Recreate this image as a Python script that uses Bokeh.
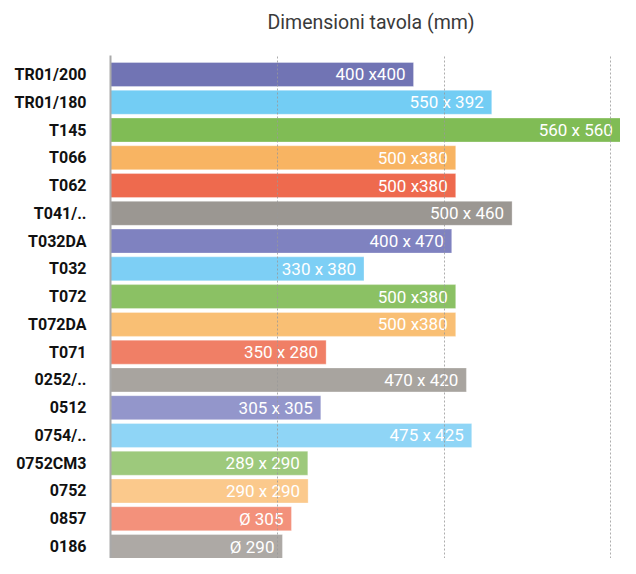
from bokeh.plotting import figure
from bokeh.models import ColumnDataSource, Range1d, FixedTicker, Title
from bokeh.core.properties import value
from bokeh.embed import file_html
from bokeh.resources import INLINE

# ---- data (top to bottom) ----
title_text = "Dimensioni tavola (mm)"
models = ["TR01/200", "TR01/180", "T145", "T066", "T062", "T041/..", "T032DA", "T032",
          "T072", "T072DA", "T071", "0252/..", "0512", "0754/..", "0752CM3", "0752",
          "0857", "0186"]
bar_values = [181.7, 228.6, 306.0, 207.0, 207.0, 240.8, 204.6, 152.0,
              207.0, 207.0, 129.3, 213.4, 126.1, 216.6, 118.3, 118.5,
              108.5, 103.1]
size_labels = ["400 x400", "550 x 392", "560 x 560", "500 x380", "500 x380", "500 x 460",
               "400 x 470", "330 x 380", "500 x380", "500 x380", "350 x 280", "470 x 420",
               "305 x 305", "475 x 425", "289 x 290", "290 x 290", "\u00d8 305", "\u00d8 290"]
bar_colors = ["#7174B4", "#73CDF4", "#80BC55", "#F8B462", "#EE6A4E", "#9B9792",
              "#7F82C0", "#7DCFF5", "#8BC164", "#F9BF74", "#F07F66", "#A8A49F",
              "#9396CB", "#8FD5F6", "#9DC97C", "#FBC98C", "#F3917B", "#ADA9A5"]
grid_ticks = [100, 200, 300]

n = len(models)
pos = [n - 1 - i for i in range(n)]

src = ColumnDataSource(dict(model=models, val=bar_values, label=size_labels,
                            color=bar_colors, pos=pos))

p = figure(width=620, height=558, output_backend="svg", toolbar_location=None,
           x_range=Range1d(0, 305.8), y_range=Range1d(-0.432, n - 1 + 0.684),
           x_axis_location=None, min_border_left=110, min_border_right=0,
           min_border_top=55, min_border_bottom=0, title=title_text)
p.outline_line_color = None
p.background_fill_color = "white"

# invisible spacer between title and plot area
spacer = Title(text=" ", text_font_size="1px", standoff=19, text_color="white")
p.add_layout(spacer, "above")

p.title.align = "left"
p.title.offset = 157
p.title.vertical_align = "bottom"
p.title.standoff = 0
p.title.text_font = "Roboto"
p.title.text_font_size = "19.5px"
p.title.text_font_style = "normal"
p.title.text_color = "#3a3a3a"

p.hbar(y="pos", right="val", left=0, height=0.864, color="color", source=src,
       line_color="white", line_alpha=0.3, line_width=1)
p.text(x="val", y="pos", text="label", source=src, text_align="right",
       text_baseline="middle", x_offset=-8, text_color="white",
       text_font=value("Roboto"), text_font_size="17px")

yaxis = p.yaxis[0]
yaxis.ticker = FixedTicker(ticks=pos)
yaxis.major_label_overrides = {pp: m for pp, m in zip(pos, models)}
yaxis.major_tick_out = 0
yaxis.major_tick_in = 0
yaxis.minor_tick_out = 0
yaxis.minor_tick_in = 0
yaxis.major_label_standoff = 24
yaxis.major_label_text_font = "Roboto"
yaxis.major_label_text_font_style = "bold"
yaxis.major_label_text_font_size = "16px"
yaxis.major_label_text_color = "#111111"
yaxis.axis_line_color = "#aaaaaa"
yaxis.axis_line_width = 2

p.ygrid.visible = False
p.xgrid.ticker = FixedTicker(ticks=grid_ticks)
p.xgrid.grid_line_color = "#999999"
p.xgrid.grid_line_alpha = 0.8
p.xgrid.grid_line_dash = "2 2"
p.xgrid.grid_line_width = 1
p.xgrid.level = "overlay"

open("out.html", "w").write(file_html(p, INLINE))
